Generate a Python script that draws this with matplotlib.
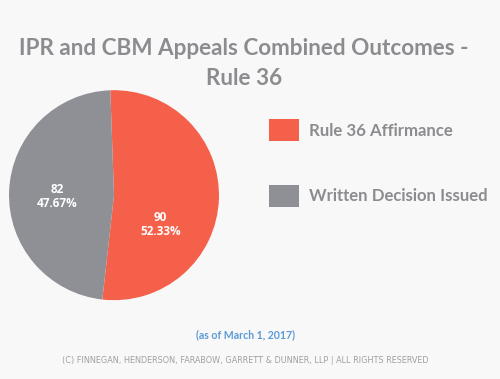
import matplotlib.pyplot as plt
import numpy as np

labels = ['Rule 36 Affirmance', 'Written Decision Issued']
counts = [90, 82]
colors = ['#F4604A', '#8F9096']

total = sum(counts)

fig = plt.figure(figsize=(5, 3.79), dpi=100, facecolor='#F8F8F8')

# Заголовок
fig.text(0.488, 0.873, 'IPR and CBM Appeals Combined Outcomes -', ha='center', va='center',
         fontsize=16.2, fontweight='bold', color='#8C8C90', family='Lato')
fig.text(0.488, 0.793, 'Rule 36', ha='center', va='center',
         fontsize=16.2, fontweight='bold', color='#8C8C90', family='Lato')

# Круговая диаграмма
ax = fig.add_axes([0.018, 0.208, 0.42, 0.554])
wedges, _ = ax.pie(counts, colors=colors, startangle=92, counterclock=False,
                   wedgeprops=dict(linewidth=0))
ax.set_xlim(-1.0, 1.0)
ax.set_ylim(-1.0, 1.0)
ax.set_aspect('equal')

# Подписи секторов
label_pos = [(-32, 0.52), (181, 0.54)]
for count, (ang, r) in zip(counts, label_pos):
    pct = count / total * 100
    ax.text(r * np.cos(np.radians(ang)), r * np.sin(np.radians(ang)),
            f'{count}\n{pct:.2f}%', ha='center', va='center', color='white',
            fontsize=8.5, fontweight='bold', family='Open Sans', linespacing=1.1)

# Легенда
fig.legend(wedges, labels, loc='center left', bbox_to_anchor=(0.507, 0.57),
           frameon=False, handlelength=1.8, handleheight=1.65, handletextpad=0.6,
           labelspacing=2.6, prop=dict(family='Lato', weight='bold', size=12.1),
           labelcolor='#8C8C90')

fig.text(0.49, 0.117, '(as of March 1, 2017)', ha='center', va='center',
         fontsize=7.6, color='#5A9AD6', family='Lato', fontweight='bold')
fig.text(0.49, 0.05, '(C) FINNEGAN, HENDERSON, FARABOW, GARRETT & DUNNER, LLP | ALL RIGHTS RESERVED',
         ha='center', va='center', fontsize=5.9, color='#A0A0A4', family='DejaVu Sans')

fig.savefig('out.png', dpi=100, facecolor=fig.get_facecolor())
